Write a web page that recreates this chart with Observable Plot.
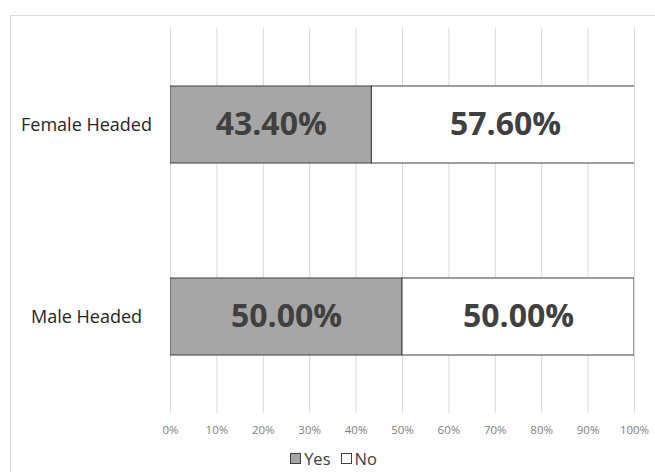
<!DOCTYPE html>
<html>
<head>
<meta charset="utf-8">
<script src="https://cdn.jsdelivr.net/npm/d3@7"></script>
<script src="https://cdn.jsdelivr.net/npm/@observablehq/plot@0.6"></script>
<style>
  html, body { margin: 0; padding: 0; background: #fff; }
  #wrap { position: relative; width: 655px; height: 472px; overflow: hidden; font-family: "Open Sans", sans-serif; }
  #frame { position: absolute; left: 10px; top: 15px; right: -2px; bottom: -2px; border-left: 1px solid #d9d9d9; border-top: 1px solid #d9d9d9; }
  #chart { position: absolute; left: 0; top: 0; }
  #legend { position: absolute; left: 0; width: 655px; top: 447px; text-align: center; font-size: 16.5px; color: #404040; line-height: 22px; padding-left: 6px; }
  #legend span.item { display: inline-flex; align-items: center; margin: 0 5px; }
  #legend span.sw { display: inline-block; width: 9px; height: 9px; border: 1px solid #404040; margin-right: 3px; }
</style>
</head>
<body>
<div id="wrap">
  <div id="frame"></div>
  <div id="chart"></div>
  <div id="legend"></div>
</div>
<script>
const categories = ["Female Headed", "Male Headed"];
const answers = ["Yes", "No"];
const yesValues = [0.434, 0.5];
const noValues = [0.576, 0.5];
const xTicks = [0, 0.1, 0.2, 0.3, 0.4, 0.5, 0.6, 0.7, 0.8, 0.9, 1];
const answerColors = ["#a6a6a6", "#ffffff"];

const rows = [];
categories.forEach((c, i) => {
  rows.push({cat: c, answer: "Yes", value: yesValues[i]});
  rows.push({cat: c, answer: "No", value: noValues[i]});
});

const chart = Plot.plot({
  width: 655,
  height: 445,
  marginLeft: 170,
  marginRight: 21,
  marginTop: 28,
  marginBottom: 32,
  style: {fontFamily: "'Open Sans', sans-serif", background: "transparent"},
  x: {domain: [0, 1], label: null},
  y: {domain: categories, paddingInner: 0.6, paddingOuter: 0.3, label: null},
  color: {domain: answers, range: answerColors},
  marks: [
    Plot.gridX(xTicks, {stroke: "#d9d9d9", strokeOpacity: 1}),
    Plot.barX(rows, Plot.stackX({x: "value", y: "cat", fill: "answer", stroke: "#404040", strokeWidth: 1, clip: true})),
    Plot.text(rows, Plot.stackX({x: "value", y: "cat", z: "answer", text: d => d3.format(".2%")(d.value), fill: "#404040", fontSize: 32, fontWeight: "bold"})),
    Plot.axisX({ticks: xTicks, tickFormat: d3.format(".0%"), tickSize: 0, tickPadding: 12, fontSize: 11.5, color: "#7f7f7f", label: null}),
    Plot.axisY({tickSize: 0, tickPadding: 84, textAnchor: "middle", fontSize: 18, color: "#262626", label: null})
  ]
});
document.getElementById("chart").appendChild(chart);

const legend = document.getElementById("legend");
answers.forEach((a, i) => {
  const item = document.createElement("span");
  item.className = "item";
  const sw = document.createElement("span");
  sw.className = "sw";
  sw.style.background = answerColors[i];
  item.appendChild(sw);
  item.appendChild(document.createTextNode(a));
  legend.appendChild(item);
});
</script>
</body>
</html>
